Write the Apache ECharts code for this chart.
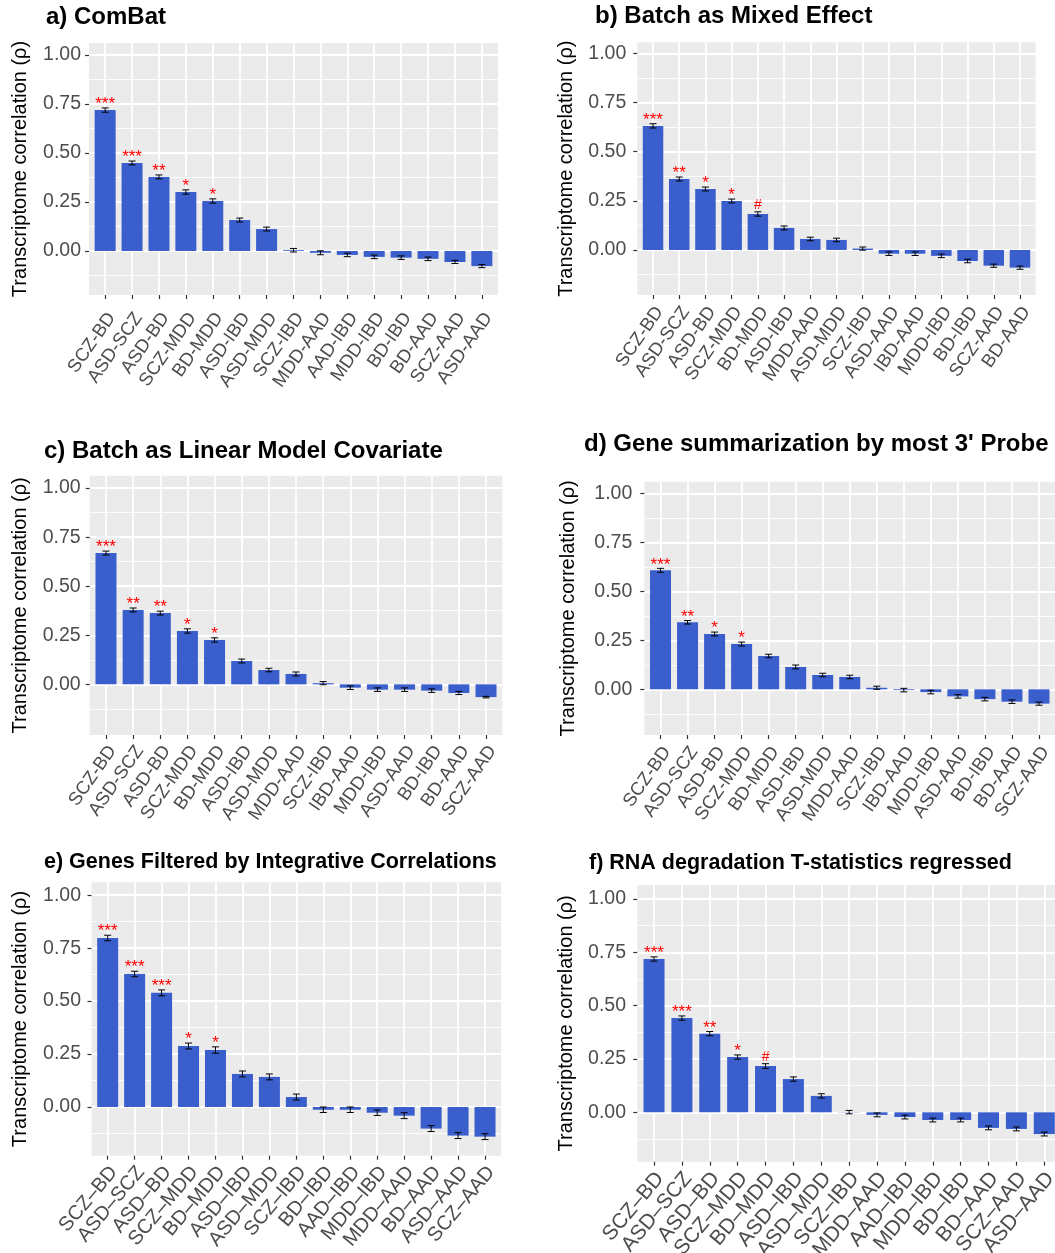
<!DOCTYPE html>
<html>
<head>
<meta charset="utf-8">
<script src="https://cdn.jsdelivr.net/npm/echarts@6/dist/echarts.min.js"></script>
<style>
  html, body { margin: 0; padding: 0; background: #ffffff; }
  #chart { width: 1055px; height: 1253px; }
</style>
</head>
<body>
<div id="chart"></div>
<script>
  // ---- data ----
  const catsA = ['SCZ-BD', 'ASD-SCZ', 'ASD-BD', 'SCZ-MDD', 'BD-MDD', 'ASD-IBD', 'ASD-MDD', 'SCZ-IBD', 'MDD-AAD', 'AAD-IBD', 'MDD-IBD', 'BD-IBD', 'BD-AAD', 'SCZ-AAD', 'ASD-AAD']
  const valsA = [0.719, 0.449, 0.378, 0.301, 0.255, 0.158, 0.112, 0.004, -0.009, -0.02, -0.03, -0.034, -0.04, -0.056, -0.077]
  const errA = [0.011, 0.01, 0.01, 0.011, 0.011, 0.01, 0.01, 0.009, 0.01, 0.009, 0.009, 0.009, 0.009, 0.008, 0.008]
  const sigA = ['***', '***', '**', '*', '*', '', '', '', '', '', '', '', '', '', '']

  const catsB = ['SCZ-BD', 'ASD-SCZ', 'ASD-BD', 'SCZ-MDD', 'BD-MDD', 'ASD-IBD', 'MDD-AAD', 'ASD-MDD', 'SCZ-IBD', 'ASD-AAD', 'IBD-AAD', 'MDD-IBD', 'BD-IBD', 'SCZ-AAD', 'BD-AAD']
  const valsB = [0.631, 0.361, 0.31, 0.249, 0.183, 0.112, 0.056, 0.051, 0.007, -0.019, -0.019, -0.03, -0.056, -0.08, -0.09]
  const errB = [0.011, 0.01, 0.01, 0.01, 0.011, 0.01, 0.009, 0.009, 0.008, 0.009, 0.009, 0.009, 0.009, 0.008, 0.008]
  const sigB = ['***', '**', '*', '*', '#', '', '', '', '', '', '', '', '', '', '']

  const catsC = ['SCZ-BD', 'ASD-SCZ', 'ASD-BD', 'SCZ-MDD', 'BD-MDD', 'ASD-IBD', 'ASD-MDD', 'MDD-AAD', 'SCZ-IBD', 'IBD-AAD', 'MDD-IBD', 'ASD-AAD', 'BD-IBD', 'BD-AAD', 'SCZ-AAD']
  const valsC = [0.669, 0.379, 0.363, 0.272, 0.226, 0.119, 0.073, 0.053, 0.006, -0.017, -0.027, -0.027, -0.032, -0.044, -0.065]
  const errC = [0.01, 0.01, 0.01, 0.011, 0.011, 0.01, 0.009, 0.01, 0.008, 0.009, 0.009, 0.009, 0.009, 0.008, 0.004]
  const sigC = ['***', '**', '**', '*', '*', '', '', '', '', '', '', '', '', '', '']

  const catsD = ['SCZ-BD', 'ASD-SCZ', 'ASD-BD', 'SCZ-MDD', 'BD-MDD', 'ASD-IBD', 'ASD-MDD', 'MDD-AAD', 'SCZ-IBD', 'IBD-AAD', 'MDD-IBD', 'ASD-AAD', 'BD-IBD', 'BD-AAD', 'SCZ-AAD']
  const valsD = [0.607, 0.342, 0.282, 0.231, 0.17, 0.114, 0.073, 0.063, 0.008, -0.004, -0.014, -0.036, -0.05, -0.063, -0.073]
  const errD = [0.01, 0.009, 0.01, 0.01, 0.009, 0.01, 0.009, 0.009, 0.008, 0.009, 0.009, 0.009, 0.009, 0.009, 0.008]
  const sigD = ['***', '**', '*', '*', '', '', '', '', '', '', '', '', '', '', '']

  const catsE = ['SCZ–BD', 'ASD–SCZ', 'ASD–BD', 'SCZ–MDD', 'BD–MDD', 'ASD–IBD', 'ASD–MDD', 'SCZ–IBD', 'BD–IBD', 'AAD–IBD', 'MDD–IBD', 'MDD–AAD', 'BD–AAD', 'ASD–AAD', 'SCZ–AAD']
  const valsE = [0.798, 0.628, 0.539, 0.288, 0.269, 0.156, 0.142, 0.047, -0.013, -0.013, -0.027, -0.041, -0.102, -0.135, -0.14]
  const errE = [0.013, 0.013, 0.014, 0.014, 0.015, 0.014, 0.014, 0.014, 0.013, 0.013, 0.013, 0.014, 0.014, 0.014, 0.014]
  const sigE = ['***', '***', '***', '*', '*', '', '', '', '', '', '', '', '', '', '']

  const catsF = ['SCZ–BD', 'ASD–SCZ', 'ASD–BD', 'SCZ–MDD', 'BD–MDD', 'ASD–IBD', 'ASD–MDD', 'SCZ–IBD', 'MDD–AAD', 'AAD–IBD', 'MDD–IBD', 'BD–IBD', 'BD–AAD', 'SCZ–AAD', 'ASD–AAD']
  const valsF = [0.719, 0.442, 0.369, 0.259, 0.217, 0.156, 0.077, 0.001, -0.012, -0.022, -0.036, -0.036, -0.073, -0.078, -0.102]
  const errF = [0.01, 0.01, 0.01, 0.01, 0.011, 0.01, 0.01, 0.008, 0.009, 0.009, 0.009, 0.009, 0.009, 0.009, 0.009]
  const sigF = ['***', '***', '**', '*', '#', '', '', '', '', '', '', '', '', '', '']

  const titles = ['a) ComBat', 'b) Batch as Mixed Effect', 'c) Batch as Linear Model Covariate',
    'd) Gene summarization by most 3\' Probe', 'e) Genes Filtered by Integrative Correlations',
    'f) RNA degradation T-statistics regressed']
  const yTicks = [0, 0.25, 0.5, 0.75, 1]
  const yMinorTicks = [-0.125, 0.125, 0.375, 0.625, 0.875]
  const yName = 'Transcriptome correlation (ρ)'

  // ---- layout of each panel (pixels) ----
  const panels = [
    { cats: catsA, vals: valsA, errs: errA, sigs: sigA, grid: [89, 43, 409, 252], y: [-0.2245, 1.0612], title: [46, 5, 24], catFont: 18.5, rot: 55, xMargin: 15, yMargin: 8, nameGap: 59, barW: 21 },
    { cats: catsB, vals: valsB, errs: errB, sigs: sigB, grid: [637.3, 42.3, 398.4, 252.7], y: [-0.229, 1.056], title: [595, 4, 24], catFont: 18.5, rot: 55, xMargin: 9, yMargin: 11, nameGap: 60.6, barW: 20.5 },
    { cats: catsC, vals: valsC, errs: errC, sigs: sigC, grid: [89.7, 475.7, 412.6, 259.3], y: [-0.258, 1.063], title: [44, 439, 24], catFont: 18.5, rot: 55, xMargin: 8, yMargin: 9, nameGap: 59.7, barW: 21 },
    { cats: catsD, vals: valsD, errs: errD, sigs: sigD, grid: [644.3, 481.7, 410.9, 253.3], y: [-0.233, 1.059], title: [584, 432, 24], catFont: 18.5, rot: 55, xMargin: 9, yMargin: 12, nameGap: 66, barW: 21 },
    { cats: catsE, vals: valsE, errs: errE, sigs: sigE, grid: [91.5, 882.3, 409.7, 273.4], y: [-0.23, 1.061], title: [44, 851, 21.5], catFont: 20, rot: 50, xMargin: 8, yMargin: 10.5, nameGap: 61.5, barW: 21 },
    { cats: catsF, vals: valsF, errs: errF, sigs: sigF, grid: [637.3, 885, 423.7, 276.7], y: [-0.2316, 1.066], title: [589, 852, 21.5], catFont: 21, rot: 50, xMargin: 8, yMargin: 11.3, nameGap: 60.6, barW: 21 }
  ]

  const font = 'Liberation Sans, Arial, sans-serif'
  const catIdx = catsA.map((c, i) => i)

  const errorBars = (sigs) => (params, api) => {
    const i = api.value(0)
    const v = api.value(1)
    const e = api.value(2)
    const hi = api.coord([i, v + e])
    const lo = api.coord([i, v - e])
    const st = { stroke: '#000000', lineWidth: 1 }
    const cap = 3.5
    const kids = [
      { type: 'line', shape: { x1: hi[0], y1: hi[1], x2: lo[0], y2: lo[1] }, style: st },
      { type: 'line', shape: { x1: hi[0] - cap, y1: hi[1], x2: hi[0] + cap, y2: hi[1] }, style: st },
      { type: 'line', shape: { x1: lo[0] - cap, y1: lo[1], x2: lo[0] + cap, y2: lo[1] }, style: st }
    ]
    const s = sigs[params.dataIndex]
    if (s) {
      const hash = s === '#'
      kids.push({
        type: 'text', x: hi[0], y: hi[1] + (hash ? 0 : 5),
        style: { text: s, fill: '#FF0000', fontSize: hash ? 14 : 17, fontFamily: font, align: 'center', verticalAlign: 'bottom' }
      })
    }
    return { type: 'group', children: kids }
  }

  const option = {
    animation: false,
    backgroundColor: '#ffffff',
    textStyle: { fontFamily: font },
    title: panels.map((p, k) => ({
      text: titles[k], left: p.title[0], top: p.title[1], padding: 0,
      textStyle: { fontSize: p.title[2], fontWeight: 'bold', color: '#000000', fontFamily: font }
    })),
    grid: panels.map(p => ({
      left: p.grid[0], top: p.grid[1], width: p.grid[2], height: p.grid[3],
      show: true, backgroundColor: '#EBEBEB', borderWidth: 0, containLabel: false, outerBoundsMode: 'none'
    })),
    xAxis: panels.map((p, k) => ({
      type: 'value', gridIndex: k, min: -0.6, max: 14.6, position: 'bottom',
      axisLine: { show: false, onZero: false },
      axisTick: { show: true, customValues: catIdx, length: 4, lineStyle: { color: '#333333', width: 1.2 } },
      axisLabel: {
        customValues: catIdx, rotate: p.rot, margin: p.xMargin, fontSize: p.catFont, lineHeight: 16,
        color: '#4D4D4D', verticalAlign: 'top', hideOverlap: false, showMinLabel: true, showMaxLabel: true,
        formatter: v => p.cats[Math.round(v)]
      },
      splitLine: { show: true, lineStyle: { color: '#ffffff', width: 1.8 } }
    })),
    yAxis: panels.flatMap((p, k) => [
      {
        type: 'value', gridIndex: k, min: p.y[0], max: p.y[1], position: 'left',
        name: yName, nameLocation: 'middle', nameGap: p.nameGap, nameRotate: 90,
        nameTextStyle: { fontSize: 20, color: '#000000', fontFamily: font },
        axisLine: { show: false, onZero: false },
        axisTick: { show: true, customValues: yTicks, length: 4, lineStyle: { color: '#333333', width: 1.2 } },
        axisLabel: { customValues: yTicks, margin: p.yMargin, fontSize: 19.5, color: '#4D4D4D', formatter: v => v.toFixed(2) },
        splitLine: { show: true, lineStyle: { color: '#ffffff', width: 1.8 } }
      },
      {
        type: 'value', gridIndex: k, min: p.y[0], max: p.y[1], position: 'left',
        axisLine: { show: false, onZero: false },
        axisTick: { show: false, customValues: yMinorTicks },
        axisLabel: { show: false, customValues: yMinorTicks },
        splitLine: { show: true, lineStyle: { color: '#ffffff', width: 0.9 } }
      }
    ]),
    series: panels.flatMap((p, k) => [
      {
        type: 'bar', xAxisIndex: k, yAxisIndex: 2 * k, barWidth: p.barW,
        itemStyle: { color: '#3A5FCD' },
        data: p.vals.map((v, i) => [i, v])
      },
      {
        type: 'custom', xAxisIndex: k, yAxisIndex: 2 * k, z: 5,
        renderItem: errorBars(p.sigs),
        data: p.vals.map((v, i) => [i, v, p.errs[i]])
      }
    ])
  }

  const chart = echarts.init(document.getElementById('chart'))
  chart.setOption(option)
</script>
</body>
</html>
